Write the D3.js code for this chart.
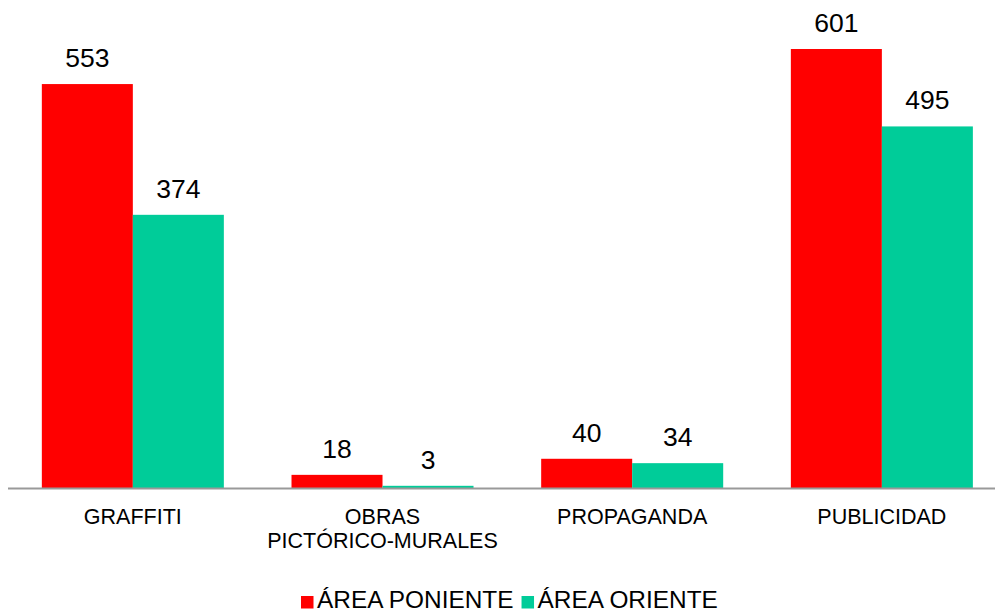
<!DOCTYPE html>
<html><head><meta charset="utf-8">
<script src="https://cdn.jsdelivr.net/npm/d3@7"></script>
<style>body{margin:0;background:#fff}svg{display:block}text{font-family:Arial,"Liberation Sans",sans-serif;fill:#000}</style>
</head><body><svg id="c" width="995" height="613"></svg>
<script>
const categories = ["GRAFFITI", "OBRAS\nPICTÓRICO-MURALES", "PROPAGANDA", "PUBLICIDAD"];
const seriesNames = ["ÁREA PONIENTE", "ÁREA ORIENTE"];
const poniente = [553, 18, 40, 601];
const oriente = [374, 3, 34, 495];
const colors = ["#FF0000", "#00CC99"];

const svg = d3.select("#c");
const baseY = 488, topY = 49;
const x0 = d3.scaleBand().domain(categories).range([8, 1006.7]).paddingInner(0.271).paddingOuter(0.1355);
const x1 = d3.scaleBand().domain(seriesNames).range([0, x0.bandwidth()]);
const y = d3.scaleLinear().domain([0, 601]).range([baseY, topY]);
const series = [poniente, oriente];

categories.forEach((c, i) => {
  const g = svg.append("g").attr("transform", `translate(${x0(c)},0)`);
  seriesNames.forEach((s, j) => {
    const v = series[j][i];
    g.append("rect").attr("x", x1(s)).attr("width", x1.bandwidth())
      .attr("y", y(v)).attr("height", baseY - y(v)).attr("fill", colors[j]);
    g.append("text").attr("x", x1(s) + x1.bandwidth() / 2).attr("y", y(v) - 17)
      .attr("text-anchor", "middle").attr("font-size", 26.5).text(v);
  });
});

svg.append("line").attr("x1", 8).attr("x2", 995).attr("y1", baseY + 0.5).attr("y2", baseY + 0.5)
  .attr("stroke", "#999").attr("stroke-width", 2);

categories.forEach(c => {
  const lines = c.split("\n");
  const t = svg.append("text").attr("text-anchor", "middle").attr("font-size", 21.5)
    .attr("x", x0(c) + x0.bandwidth() / 2).attr("y", 524);
  lines.forEach((l, k) => t.append("tspan").attr("x", x0(c) + x0.bandwidth() / 2).attr("dy", k ? 24 : 0).text(l));
});

// legend
const leg = svg.append("g");
let lx = 301;
seriesNames.forEach((s, j) => {
  leg.append("rect").attr("x", lx).attr("y", 596).attr("width", 12.5).attr("height", 12.5).attr("fill", colors[j]);
  const t = leg.append("text").attr("x", lx + 16).attr("y", 608).attr("font-size", 24.4).text(s);
  lx += 16 + t.node().getComputedTextLength() + 8;
});
</script></body></html>
